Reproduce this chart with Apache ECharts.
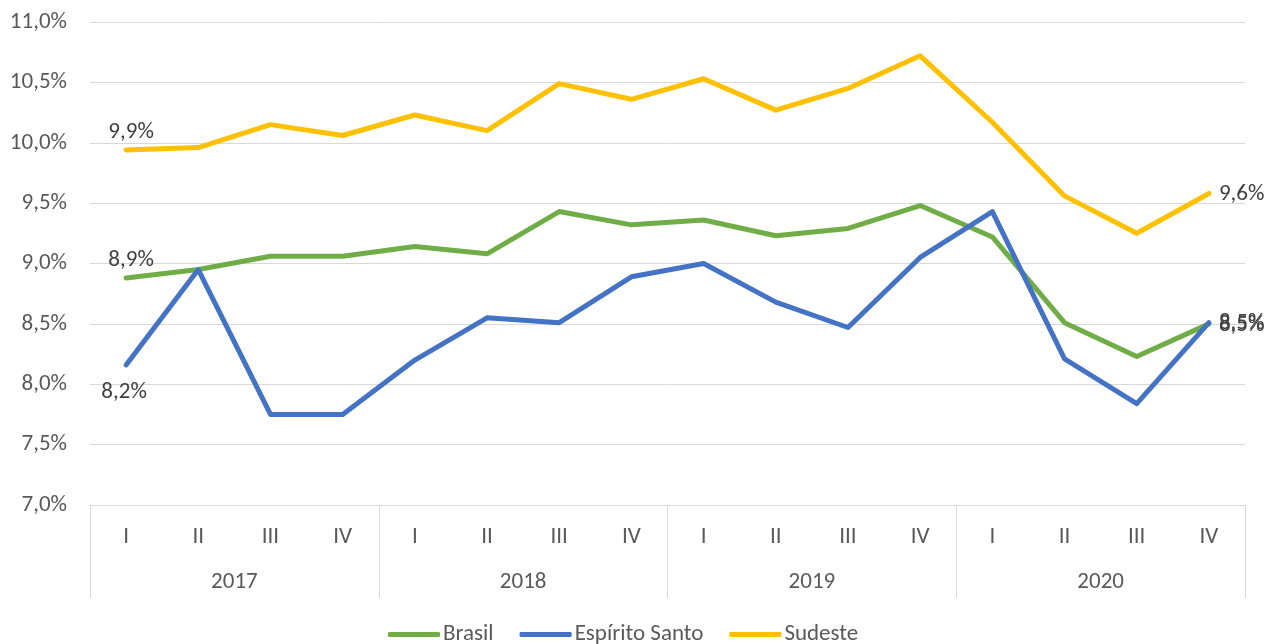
<!DOCTYPE html>
<html>
<head>
<meta charset="utf-8">
<script src="https://cdn.jsdelivr.net/npm/echarts@6/dist/echarts.min.js"></script>
<style>
  html, body { margin: 0; padding: 0; background: #fff; }
  #chart { width: 1279px; height: 644px; }
</style>
</head>
<body>
<div id="chart"></div>
<script>
var quarters = ['I','II','III','IV','I','II','III','IV','I','II','III','IV','I','II','III','IV'];
var years = ['2017','2018','2019','2020'];

var brasil = [8.88, 8.95, 9.06, 9.06, 9.14, 9.08, 9.43, 9.32, 9.36, 9.23, 9.29, 9.48, 9.22, 8.51, 8.23, 8.50];
var espiritoSanto = [8.16, 8.95, 7.75, 7.75, 8.20, 8.55, 8.51, 8.89, 9.00, 8.68, 8.47, 9.05, 9.43, 8.21, 7.84, 8.51];
var sudeste = [9.94, 9.96, 10.15, 10.06, 10.23, 10.10, 10.49, 10.36, 10.53, 10.27, 10.45, 10.72, 10.17, 9.56, 9.25, 9.58];

var font = 'Carlito, "Open Sans", "Noto Sans", sans-serif';
var textColor = '#595959';

function fmt(v) {
    return v.toFixed(1).replace('.', ',') + '%';
}

// first and last points get a label, like the original
function withLabels(values, firstPos, firstDist, firstOffset) {
    return values.map(function (v, i) {
        if (i === 0) {
            return { value: v, label: { show: true, position: firstPos, distance: firstDist, offset: firstOffset } };
        }
        if (i === values.length - 1) {
            return { value: v, label: { show: true, position: 'right', distance: 10, offset: [0, 1] } };
        }
        return v;
    });
}

var chart = echarts.init(document.getElementById('chart'));

var labelStyle = {
    show: false,
    color: '#404040',
    fontSize: 23,
    fontFamily: font,
    formatter: function (p) { return fmt(p.value); }
};

function makeSeries(name, color, values, firstPos, firstDist, firstOffset) {
    return {
        name: name,
        type: 'line',
        data: withLabels(values, firstPos, firstDist, firstOffset),
        symbol: 'circle',
        symbolSize: 0.1,
        showAllSymbol: true,
        smooth: false,
        lineStyle: { color: color, width: 5, cap: 'round', join: 'round' },
        itemStyle: { color: color },
        label: labelStyle
    };
}

var option = {
    animation: false,
    backgroundColor: '#fff',
    grid: { left: 90, right: 34, top: 22, bottom: 139 },
    legend: {
        top: 618,
        left: 383,
        icon: 'roundRect',
        itemWidth: 52,
        itemHeight: 5,
        itemGap: 26,
        textStyle: { color: textColor, fontSize: 23, fontFamily: font, padding: [0, 0, 0, -2] },
        data: ['Brasil', 'Espírito Santo', 'Sudeste']
    },
    xAxis: [
        {
            type: 'category',
            data: quarters,
            boundaryGap: true,
            axisLine: { show: true, lineStyle: { color: '#d9d9d9', width: 1 } },
            axisTick: { show: false },
            axisLabel: { color: textColor, fontSize: 23, fontFamily: font, margin: 21, interval: 0 }
        },
        {
            type: 'category',
            data: years,
            position: 'bottom',
            boundaryGap: true,
            axisLine: { show: false },
            axisTick: { show: true, length: 93, lineStyle: { color: '#d9d9d9', width: 1 } },
            axisLabel: { color: textColor, fontSize: 23, fontFamily: font, margin: 66 }
        }
    ],
    yAxis: {
        type: 'value',
        min: 7,
        max: 11,
        interval: 0.5,
        axisLine: { show: false },
        axisTick: { show: false },
        splitLine: { lineStyle: { color: '#d9d9d9', width: 1 } },
        axisLabel: {
            color: textColor,
            fontSize: 23,
            fontFamily: font,
            margin: 23,
            formatter: function (v) { return fmt(v); }
        }
    },
    series: [
        makeSeries('Brasil', '#70ad47', brasil, 'top', 6, [5, 0]),
        makeSeries('Espírito Santo', '#4472c4', espiritoSanto, 'bottom', 16, [-2, 0]),
        makeSeries('Sudeste', '#ffc000', sudeste, 'top', 6, [5, 0])
    ]
};

chart.setOption(option);
</script>
</body>
</html>
